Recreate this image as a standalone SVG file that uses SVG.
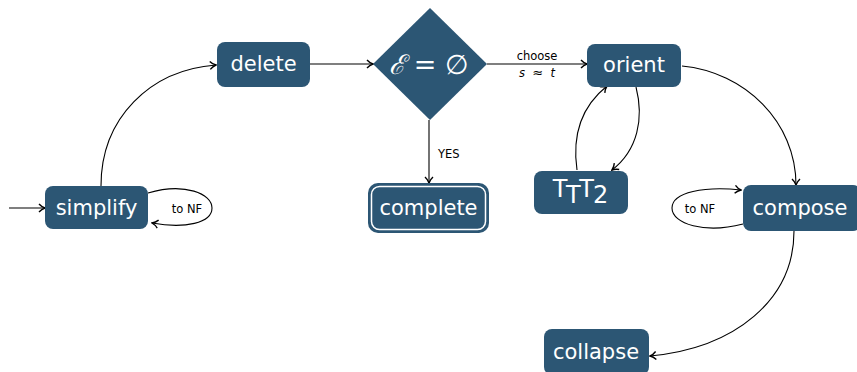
<svg xmlns="http://www.w3.org/2000/svg" width="857" height="372" viewBox="0 0 857 372">
  <defs>
    <marker id="arrow" viewBox="-7 -5 8 10" markerWidth="8" markerHeight="10" refX="0" refY="0" orient="auto" markerUnits="userSpaceOnUse">
      <path d="M-6,-4 C-4,-1.8 -1.5,-0.5 0,0 C-1.5,0.5 -4,1.8 -6,4" fill="none" stroke="#000" stroke-width="1.4"/>
    </marker>
    <style>
      .node { fill: #2c5674; }
      .label { font-family: "DejaVu Sans", sans-serif; font-size: 21px; fill: #ffffff; text-anchor: middle; }
      .small { font-family: "DejaVu Sans", sans-serif; font-size: 11.5px; fill: #000; text-anchor: middle; }
      .edge { fill: none; stroke: #000; stroke-width: 1.1; marker-end: url(#arrow); }
    </style>
  </defs>
  <rect width="857" height="372" fill="#ffffff"/>

  <g id="connectors">
    <!-- initial arrow into simplify -->
    <path class="edge" d="M9,208 L45,208"/>
    <!-- simplify self loop -->
    <path class="edge" d="M148,193 C185,182 212,194 212,208 C212,223 185,229 152,223"/>
    <text class="small" x="187" y="213">to NF</text>
    <!-- simplify to delete -->
    <path class="edge" d="M101,186 C101,118 150,70 216,65"/>
    <!-- delete to decision -->
    <path class="edge" d="M310,64 L373,64"/>
    <!-- decision to complete -->
    <path class="edge" d="M429,120 L429,183"/>
    <text class="small" x="438" y="158" style="text-anchor:start">YES</text>
    <!-- decision to orient -->
    <path class="edge" d="M487,64 L587,64"/>
    <text class="small" x="537" y="60">choose</text>
    <text class="small" x="537" y="77" font-family="DejaVu Serif, serif" xml:space="preserve"><tspan font-style="italic">s</tspan>  <tspan font-family="DejaVu Sans, sans-serif" font-size="13">≈</tspan>  <tspan font-style="italic">t</tspan></text>
    <!-- orient to TTT2 and back -->
    <path class="edge" d="M636,87 C644,118 638,150 612,170"/>
    <path class="edge" d="M577,170 C572,135 582,106 607,86"/>
    <!-- orient to compose -->
    <path class="edge" d="M682,66 C745,72 796,122 796,185"/>
    <!-- compose self loop -->
    <path class="edge" d="M743,224 C705,234 672,224 672,208 C672,192 705,186 741,190"/>
    <text class="small" x="700" y="213">to NF</text>
    <!-- compose to collapse -->
    <path class="edge" d="M794,231 C794,300 735,348 650,356"/>
  </g>

  <g id="simplify">
    <rect class="node" x="45" y="186" width="103" height="43" rx="8"/>
    <text class="label" x="96.5" y="215">simplify</text>
  </g>

  <g id="delete">
    <rect class="node" x="217" y="42" width="93" height="45" rx="8"/>
    <text class="label" x="263.5" y="71">delete</text>
  </g>

  <g id="empty-check">
    <polygon class="node" points="430,8 487,64 430,120 373,64"/>
    <text x="429" y="74" font-family="DejaVu Serif, serif" font-size="27" fill="#ffffff" text-anchor="middle"><tspan font-style="italic">ℰ</tspan> = ∅</text>
  </g>

  <g id="complete">
    <rect class="node" x="368" y="183" width="121" height="50" rx="10"/>
    <rect x="371.5" y="186.5" width="114" height="43" rx="8" fill="none" stroke="#ffffff" stroke-width="1.5"/>
    <text class="label" x="428.5" y="215">complete</text>
  </g>

  <g id="orient">
    <rect class="node" x="587" y="44" width="94" height="43" rx="8"/>
    <text class="label" x="634" y="72">orient</text>
  </g>

  <g id="ttt2">
    <rect class="node" x="534" y="171" width="94" height="43" rx="8"/>
    <text class="label" x="580" y="197" style="font-size:24px" letter-spacing="-1">T<tspan dy="6">T</tspan><tspan dy="-6">T</tspan><tspan dy="6">2</tspan></text>
  </g>

  <g id="compose">
    <rect class="node" x="743" y="185" width="118" height="46" rx="8"/>
    <text class="label" x="800" y="215">compose</text>
  </g>

  <g id="collapse">
    <rect class="node" x="544" y="329" width="105" height="46" rx="8"/>
    <text class="label" x="596" y="359">collapse</text>
  </g>
</svg>
